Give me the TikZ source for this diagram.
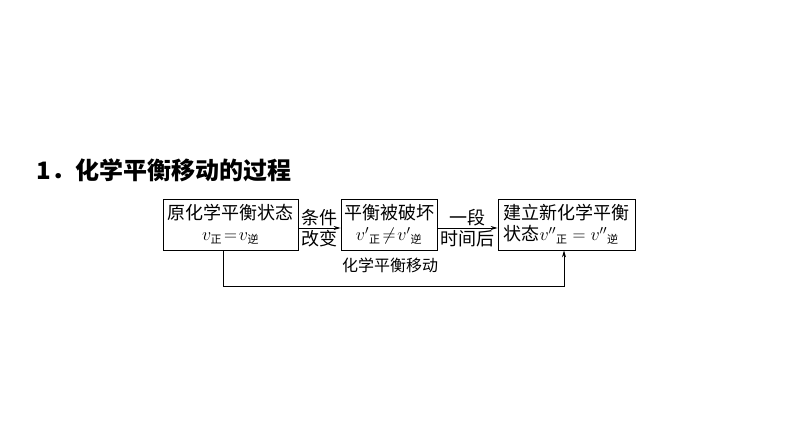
\documentclass[tikz,border=0pt]{standalone}
\usepackage{fontspec}
\usepackage{fix-cm}
\newfontfamily\cjk{Noto Sans CJK SC}
\usetikzlibrary{positioning,arrows.meta}
\newcommand{\zh}[1]{\mbox{\fontsize{11}{11}\selectfont\cjk #1}}
\tikzset{
  box/.style={draw,thick,minimum height=51pt,inner sep=1pt,
    align=center,font=\fontsize{18}{21}\selectfont\cjk},
  lbl/.style={font=\fontsize{18}{21}\selectfont\cjk,inner sep=2pt}
}
\begin{document}
\begin{tikzpicture}[x=1pt,y=1pt]
      \useasboundingbox (0,0) rectangle (794,446);
      \node[anchor=west,font=\fontsize{24}{28}\selectfont\cjk\bfseries] (title) at (33,276)
        {\textbf{1}．化学平衡移动的过程};
      \node[box,minimum width=135pt] (yuan) at (230.5,221.5)
        {原化学平衡状态\\$v_{\zh{正}}\!=\!v_{\zh{逆}}$};
      \node[box,minimum width=96pt] (po) at (389,221.5)
        {平衡被破坏\\${v'}_{\zh{正}}\!\neq\!{v'}_{\zh{逆}}$};
      \node[box,minimum width=137pt,align=left] (xin) at (566.5,221.5)
        {建立新化学平衡\\状态${v''}_{\zh{正}}={v''}_{\zh{逆}}$};
      \begin{scope}[-{Stealth[length=7pt,width=4pt]},thick]
        \draw (yuan.east |- 0,218) to
          node[lbl,above] (tiao) {条件} node[lbl,below] (gai) {改变} (po.west |- 0,218);
        \draw (po.east |- 0,218) to
          node[lbl,above] (yi) {一段} node[lbl,below] (shi) {时间后} (xin.west |- 0,218);
        \draw ([xshift=-7.5pt]yuan.south) -- ++(0,-36) -| ([xshift=-2.5pt]xin.south);
      \end{scope}
      \node[font=\fontsize{16}{19}\selectfont\cjk] (yidong) at (390,181) {化学平衡移动};
    \end{tikzpicture}
\end{document}
